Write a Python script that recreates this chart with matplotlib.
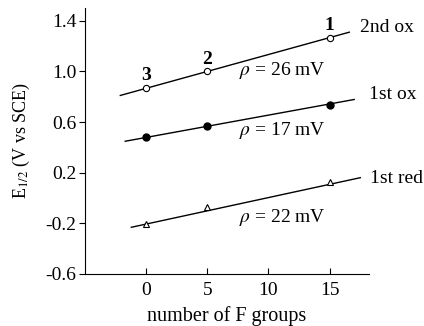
import numpy as np
import matplotlib.pyplot as plt

plt.rcParams['font.family'] = ['Liberation Serif', 'DejaVu Serif']
plt.rcParams['mathtext.fontset'] = 'stix'

# data
nF = [0, 5, 15]
ox2 = [0.868, 1.00, 1.264]
ox1 = [0.48, 0.57, 0.736]
red1 = [-0.205, -0.072, 0.125]
compound_labels = ['3', '2', '1']

# fitted lines (endpoints)
ox2_fit_x = [-2.1, 16.6]
ox2_fit_y = [0.81, 1.31]
ox1_fit_x = [-1.7, 17.0]
ox1_fit_y = [0.448, 0.778]
red1_fit_x = [-1.2, 17.5]
red1_fit_y = [-0.232, 0.16]

fs = 14

fig = plt.figure(figsize=(4.24, 3.26), dpi=100)
ax = fig.add_axes([0.2, 0.16, 0.67, 0.815])

ax.plot(ox2_fit_x, ox2_fit_y, color='black', lw=1.0)
ax.plot(ox1_fit_x, ox1_fit_y, color='black', lw=1.0)
ax.plot(red1_fit_x, red1_fit_y, color='black', lw=1.0)

ax.plot(nF, ox2, 'o', ms=4.5, mfc='white', mec='black', mew=0.8)
ax.plot(nF, ox1, 'o', ms=5, mfc='black', mec='black')
ax.plot(nF, red1, '^', ms=4.5, mfc='white', mec='black', mew=0.8)

# compound numbers above the 2nd ox points
for x, y, lab in zip(nF, ox2, compound_labels):
    ax.text(x, y + 0.062, lab, ha='center', va='baseline',
            fontsize=fs, fontweight='bold')

ax.text(17.5, 1.344, '2nd ox', fontsize=fs, ha='left', va='center', clip_on=False)
ax.text(18.2, 0.816, '1st ox', fontsize=fs, ha='left', va='center', clip_on=False)
ax.text(18.3, 0.152, '1st red', fontsize=fs, ha='left', va='center', clip_on=False)

ax.text(7.6, 1.008, r'$\rho$ = 26 mV', fontsize=fs, ha='left', va='center')
ax.text(7.6, 0.536, r'$\rho$ = 17 mV', fontsize=fs, ha='left', va='center')
ax.text(7.6, -0.152, r'$\rho$ = 22 mV', fontsize=fs, ha='left', va='center')

ax.set_xlim(-5, 18.2)
ax.set_ylim(-0.6, 1.5)
ax.set_xticks([0, 5, 10, 15])
ax.set_yticks([-0.6, -0.2, 0.2, 0.6, 1.0, 1.4])
ax.set_yticklabels(['-0.6', '-0.2', '0.2', '0.6', '1.0', '1.4'])
ax.tick_params(axis='y', direction='out', length=4, pad=2, labelsize=fs)
ax.tick_params(axis='x', direction='in', length=4, pad=6, labelsize=fs)
ax.spines['top'].set_visible(False)
ax.spines['right'].set_visible(False)

ax.set_xlabel('number of F groups', fontsize=14.5, labelpad=5)
ax.set_ylabel(r'E$_{1/2}$ (V vs SCE)', fontsize=13, labelpad=10)

fig.savefig('out.png', dpi=100)
